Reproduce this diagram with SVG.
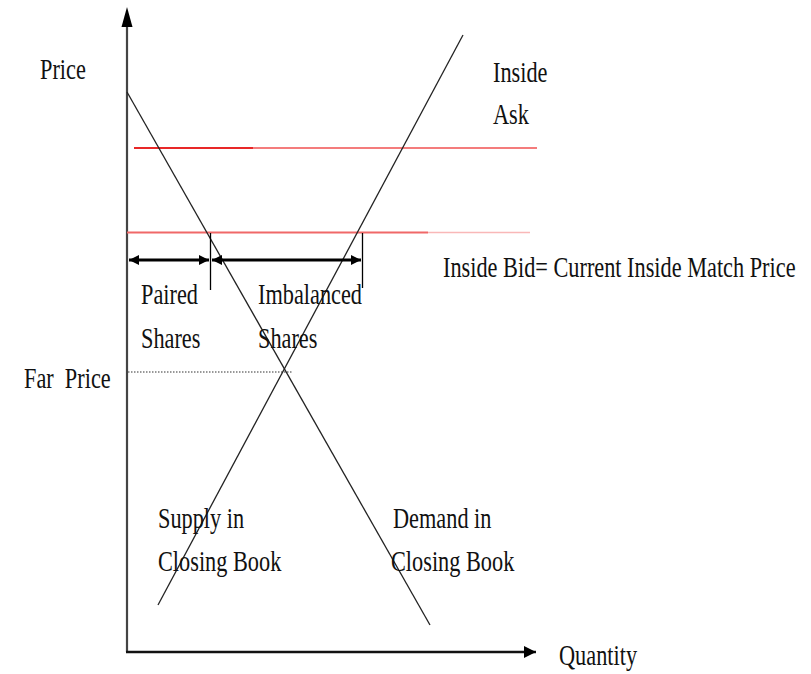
<svg xmlns="http://www.w3.org/2000/svg" width="811" height="674" viewBox="0 0 811 674">
<style>
text{font-family:"Liberation Serif","Times New Roman",serif;font-size:22.3px;fill:#111}
.ln{stroke:#222;stroke-width:1.3;fill:none}
.dbl{stroke:#000;stroke-width:3;fill:none}
</style>
<defs>
<marker id="ah" viewBox="0 0 10 10" refX="10" refY="5" markerWidth="10" markerHeight="10" markerUnits="userSpaceOnUse" orient="auto-start-reverse"><path d="M0,0 L10,5 L0,10 z" fill="#000"/></marker>
<marker id="ax" viewBox="0 0 10 10" refX="10" refY="5" markerWidth="12" markerHeight="12" markerUnits="userSpaceOnUse" orient="auto"><path d="M0,0 L10,5 L0,10 z" fill="#000"/></marker>
</defs>
<rect width="811" height="674" fill="#fff"/>
<g id="connectors">
<line x1="127" y1="652" x2="127" y2="18" stroke="#444" stroke-width="2.2"/>
<path d="M127,7 L121.5,27 L132.5,27 z" fill="#000"/>
<line x1="126" y1="652" x2="536" y2="652" stroke="#111" stroke-width="2.5" marker-end="url(#ax)"/>
<line x1="134" y1="148" x2="253" y2="148" stroke="#e82828" stroke-width="2"/>
<line x1="253" y1="148" x2="537" y2="148" stroke="#f47c7c" stroke-width="2"/>
<line x1="127" y1="232.5" x2="428" y2="232.5" stroke="#f06868" stroke-width="2"/>
<line x1="428" y1="232.5" x2="530" y2="232.5" stroke="#f9b8b8" stroke-width="1.6"/>
<line x1="128" y1="372" x2="293" y2="372" stroke="#777" stroke-width="1.5" stroke-dasharray="1.5,1.5"/>
<line class="ln" x1="127" y1="92" x2="430" y2="625"/>
<line class="ln" x1="158" y1="605" x2="463" y2="35"/>
<line x1="210.5" y1="233" x2="210.5" y2="290" stroke="#000" stroke-width="1.3"/>
<line x1="362.5" y1="233" x2="362.5" y2="288" stroke="#000" stroke-width="1.3"/>
<line class="dbl" x1="129" y1="260" x2="209" y2="260" marker-start="url(#ah)" marker-end="url(#ah)"/>
<line class="dbl" x1="212" y1="260" x2="361" y2="260" marker-start="url(#ah)" marker-end="url(#ah)"/>
</g>
<g id="price"><text transform="translate(40,79) scale(1,1.3)">Price</text></g>
<g id="inside-ask"><text transform="translate(493,82) scale(1,1.3)">Inside</text><text transform="translate(493,124) scale(1,1.3)">Ask</text></g>
<g id="inside-bid"><text transform="translate(443,277) scale(1,1.3)">Inside Bid= Current Inside Match Price</text></g>
<g id="paired"><text transform="translate(141,304) scale(1,1.3)">Paired</text><text transform="translate(141,348) scale(1,1.3)">Shares</text></g>
<g id="imbalanced"><text transform="translate(258,304) scale(1,1.3)">Imbalanced</text><text transform="translate(258,348) scale(1,1.3)">Shares</text></g>
<g id="far-price"><text transform="translate(24,388) scale(1,1.3)" xml:space="preserve">Far  Price</text></g>
<g id="supply"><text transform="translate(158,528) scale(1,1.3)">Supply in</text><text transform="translate(158,571) scale(1,1.3)">Closing Book</text></g>
<g id="demand"><text transform="translate(393,528) scale(1,1.3)">Demand in</text><text transform="translate(391,571) scale(1,1.3)">Closing Book</text></g>
<g id="quantity"><text transform="translate(559,665) scale(1,1.3)">Quantity</text></g>
</svg>
